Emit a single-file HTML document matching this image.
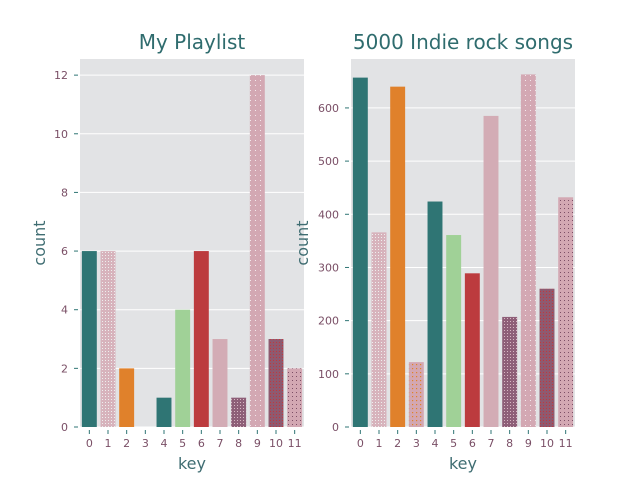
<!DOCTYPE html>
<html><head><meta charset="utf-8"><style>
body{margin:0;background:#fff;font-family:"DejaVu Sans","Liberation Sans",sans-serif}
</style></head><body>
<svg id="c" width="640" height="480" xmlns="http://www.w3.org/2000/svg">
<defs>
<pattern id="p1" width="3" height="3" patternUnits="userSpaceOnUse"><rect width="3" height="3" fill="#d7b3bc"/><rect width="1" height="1" fill="#eee"/></pattern>
<pattern id="p3" width="4" height="4" patternUnits="userSpaceOnUse"><rect width="4" height="4" fill="#d3a7b2"/><rect width="1.2" height="1.2" fill="#e0812b"/></pattern>
<pattern id="p8" width="3" height="3" patternUnits="userSpaceOnUse"><rect width="3" height="3" fill="#8e5f78"/><rect width="1" height="1" fill="#d8b8c4"/></pattern>
<pattern id="p9" width="5" height="5" patternUnits="userSpaceOnUse"><rect width="5" height="5" fill="#d3a8b3"/><rect width="1" height="1" fill="#f4e8ec"/></pattern>
<pattern id="p10" width="3" height="3" patternUnits="userSpaceOnUse"><rect width="3" height="3" fill="#8e5a70"/><rect width="1" height="1" fill="#c0393e"/></pattern>
<pattern id="p11" width="4" height="4" patternUnits="userSpaceOnUse"><rect width="4" height="4" fill="#d3a8b3"/><rect width="1" height="1" fill="#7d4f66"/></pattern>
</defs>
</svg>
<script>
const keys=["0","1","2","3","4","5","6","7","8","9","10","11"];
const playlistCounts=[6,6,2,0,1,4,6,3,1,12,3,2];
const indieCounts=[657,366,640,122,424,361,289,585,207,663,260,432];
const leftTicks=[0,2,4,6,8,10,12];
const rightTicks=[0,100,200,300,400,500,600];
const fills=["#2f7574","url(#p1)","#e0812b","url(#p3)","#2f7574","#a0d197","#bc3b3e","#d3acb5","url(#p8)","url(#p9)","url(#p10)","url(#p11)"];
const svg=document.getElementById('c');
const NS="http://www.w3.org/2000/svg";
function el(t,a,txt){const e=document.createElementNS(NS,t);for(const k in a)e.setAttribute(k,a[k]);if(txt!==undefined)e.textContent=txt;svg.appendChild(e);return e;}
function panel(x0,x1,ymax,vals,ticks,title,prefix){
  const top=59,bot=427;
  const y=v=>bot-v/ymax*(bot-top);
  const bw=(x1-x0)/keys.length;
  const xc=i=>x0+bw*(i+0.5);
  const bg=el('rect',{x:x0,y:top,width:x1-x0,height:bot-top,fill:'#e2e3e5'});
  
  
  ticks.forEach(t=>{
    const g=el('line',{x1:x0,x2:x1,y1:y(t),y2:y(t),stroke:'#fff','stroke-width':1});
    
    
    el('line',{x1:x0-6,x2:x0-2,y1:y(t),y2:y(t),stroke:'#2f7574','stroke-width':1});
    const l=el('text',{x:x0-12,y:y(t)+4,'text-anchor':'end','font-size':11,fill:'#7a4f66'},t);
    
    
  });
  vals.forEach((v,i)=>{
    const r=el('rect',{x:xc(i)-bw*0.4,y:y(v),width:bw*0.8,height:bot-y(v),fill:fills[i]});
    
    
    el('line',{x1:xc(i),x2:xc(i),y1:bot+3,y2:bot+7,stroke:'#2f7574','stroke-width':1});
    const l=el('text',{x:xc(i),y:bot+20,'text-anchor':'middle','font-size':11,fill:'#7a4f66'},keys[i]);
    
    
  });
  const xt=el('text',{x:(x0+x1)/2,y:469,'text-anchor':'middle','font-size':16,fill:'#3f6d72'},'key');
  
  
  const tt=el('text',{x:(x0+x1)/2,y:49,'text-anchor':'middle','font-size':20,fill:'#2f6c6e'},title);
  
  
}
panel(80,304,12.55,playlistCounts,leftTicks,'My Playlist','playlist');
panel(351,575,692,indieCounts,rightTicks,'5000 Indie rock songs','indie');
const y1=el('text',{x:45,y:243,'text-anchor':'middle','font-size':16,fill:'#3f6d72',transform:'rotate(-90 45 243)'},'count');


const y2=el('text',{x:308,y:243,'text-anchor':'middle','font-size':16,fill:'#3f6d72',transform:'rotate(-90 308 243)'},'count');


</script>
</body></html>
